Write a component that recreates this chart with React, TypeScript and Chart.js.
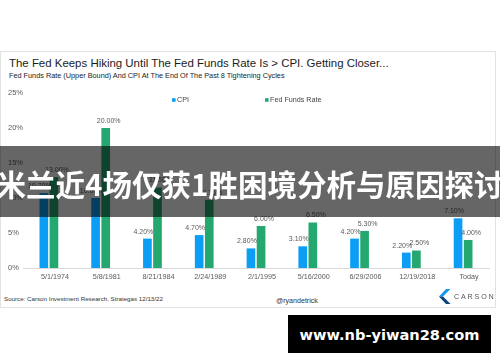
import React, { useEffect, useRef } from "react";
import { Chart, registerables } from "chart.js";

Chart.register(...registerables);

const categories = ["5/1/1974", "5/8/1981", "8/21/1984", "2/24/1989", "2/1/1995", "5/16/2000", "6/29/2006", "12/19/2018", "Today"];
const cpiValues = [10.7, 10.0, 4.2, 4.7, 2.8, 3.1, 4.2, 2.2, 7.1];
const fedFundsValues = [13.0, 20.0, 11.5, 9.75, 6.0, 6.5, 5.3, 2.5, 4.0];
const seriesNames = ["CPI", "Fed Funds Rate"];
const yMin = 0;
const yMax = 25;
const yStep = 5;

const FONT = '"Liberation Sans", Arial, sans-serif';
const CPI_COLOR = "#0c9ef5";
const FF_COLOR = "#25a870";

const barLabelPlugin = {
  id: "barLabels",
  afterDatasetsDraw(chart: any) {
    const ctx = chart.ctx;
    ctx.save();
    ctx.font = `7px ${FONT}`;
    ctx.fillStyle = "#5a5a5a";
    ctx.textAlign = "center";
    ctx.textBaseline = "middle";
    chart.data.datasets.forEach((ds: any, i: number) => {
      const meta = chart.getDatasetMeta(i);
      const dx = i === 0 ? -4 : 3;
      meta.data.forEach((bar: any, j: number) => {
        ctx.fillText(Number(ds.data[j]).toFixed(2) + "%", bar.x + dx, bar.y - 7);
      });
    });
    ctx.restore();
  },
};

const legendPlugin = {
  id: "innerLegend",
  afterDraw(chart: any) {
    const ctx = chart.ctx;
    const xs = [172, 265];
    const y = 15;
    ctx.save();
    ctx.font = `7.2px ${FONT}`;
    ctx.textAlign = "left";
    ctx.textBaseline = "middle";
    chart.data.datasets.forEach((ds: any, i: number) => {
      ctx.fillStyle = ds.backgroundColor;
      ctx.fillRect(xs[i], y - 1.8, 3.6, 3.6);
      ctx.fillStyle = "#444";
      ctx.fillText(ds.label, xs[i] + 5, y);
    });
    ctx.restore();
  },
};

function BarChart() {
  const ref = useRef<HTMLCanvasElement | null>(null);
  useEffect(() => {
    if (!ref.current) return;
    const chart = new Chart(ref.current, {
      type: "bar",
      data: {
        labels: categories,
        datasets: [
          { label: seriesNames[0], data: cpiValues, backgroundColor: CPI_COLOR, categoryPercentage: 0.39, barPercentage: 0.86 },
          { label: seriesNames[1], data: fedFundsValues, backgroundColor: FF_COLOR, categoryPercentage: 0.39, barPercentage: 0.86 },
        ],
      },
      options: {
        animation: false,
        responsive: false,
        devicePixelRatio: 1,
        layout: { padding: { left: 8, right: 8, top: 8, bottom: 0 } },
        plugins: { legend: { display: false }, tooltip: { enabled: false }, title: { display: false } },
        scales: {
          x: {
            grid: { display: false, drawTicks: false },
            border: { display: true, color: "#d9d9d9" },
            ticks: { color: "#5a5a5a", font: { size: 7.2, family: FONT }, labelOffset: 6, padding: 5, maxRotation: 0, autoSkip: false },
            afterFit: (s: any) => { s.height = 22; },
          },
          y: {
            min: yMin,
            max: yMax,
            grid: { display: false },
            border: { display: false },
            ticks: { stepSize: yStep, color: "#5a5a5a", font: { size: 7.5, family: FONT }, crossAlign: "far", padding: 0, callback: (v: any) => v + "%" },
            afterFit: (s: any) => { s.width = 15; },
          },
        },
      },
      plugins: [barLabelPlugin, legendPlugin],
    });
    return () => chart.destroy();
  }, []);
  return <canvas ref={ref} width={497} height={205} style={{ display: "block", width: 497, height: 205 }} />;
}

export default function App() {
  useEffect(() => {
    document.body.style.margin = "0";
  }, []);
  const abs = (o: React.CSSProperties): React.CSSProperties => ({ position: "absolute", ...o });
  return (
    <div style={{ position: "fixed", left: 0, top: 0, width: 500, height: 362, background: "#fff", overflow: "hidden", fontFamily: FONT }}>
      <div style={abs({ left: 0, top: 51, width: 496, height: 257, border: "1px solid #e2e2e2", boxSizing: "border-box" })} />
      <div style={abs({ left: 9, top: 56, fontSize: 11.45, lineHeight: "14px", color: "#1c1c1c", whiteSpace: "nowrap" })}>
        The Fed Keeps Hiking Until The Fed Funds Rate Is &gt; CPI. Getting Closer...
      </div>
      <div style={abs({ left: 9, top: 71, fontSize: 7.3, lineHeight: "10px", color: "#222", whiteSpace: "nowrap" })}>
        Fed Funds Rate (Upper Bound) And CPI At The End Of The Past 8 Tightening Cycles
      </div>
      <div style={abs({ left: 0, top: 85, width: 497, height: 205 })}>
        <BarChart />
      </div>
      <div style={abs({ left: 4, top: 294, fontSize: 6.2, lineHeight: "10px", color: "#333", whiteSpace: "nowrap" })}>
        Source: Carson Investment Research, Strategas 12/13/22
      </div>
      <div style={abs({ left: 276, top: 296, fontSize: 7.1, lineHeight: "10px", color: "#333", whiteSpace: "nowrap" })}>
        @ryandetrick
      </div>
      <svg style={abs({ left: 438, top: 288 })} width={58} height={18}>
        <polygon points="8,1 12.5,1 5,8.5 1,8.5" fill="#1898ea" />
        <polygon points="1,8.5 5,8.5 12.5,16 8,16" fill="#0d3f7c" />
        <text x={16} y={11.3} fontSize={7.2} fontFamily={FONT} fill="#555" letterSpacing={1.8}>CARSON</text>
      </svg>
      <div style={abs({ left: 0, top: 146, width: 500, height: 71, background: "rgba(0,0,0,0.6)", display: "flex", alignItems: "center", justifyContent: "center" })}>
        <span style={{ color: "#fff", fontWeight: 700, fontSize: 29.5, lineHeight: "36px", whiteSpace: "nowrap", fontFamily: '"Noto Sans CJK SC", "Noto Sans", sans-serif', marginTop: 2 }}>
          米兰近4场仅获1胜困境分析与原因探讨
        </span>
      </div>
      <div style={abs({ left: 288, top: 315, width: 203, height: 38, background: "#000", display: "flex", alignItems: "center", justifyContent: "center" })}>
        <span style={{ color: "#fff", fontWeight: 700, fontSize: 14.6, fontFamily: '"DejaVu Sans", sans-serif', whiteSpace: "nowrap" }}>
          www.nb-yiwan28.com
        </span>
      </div>
    </div>
  );
}
